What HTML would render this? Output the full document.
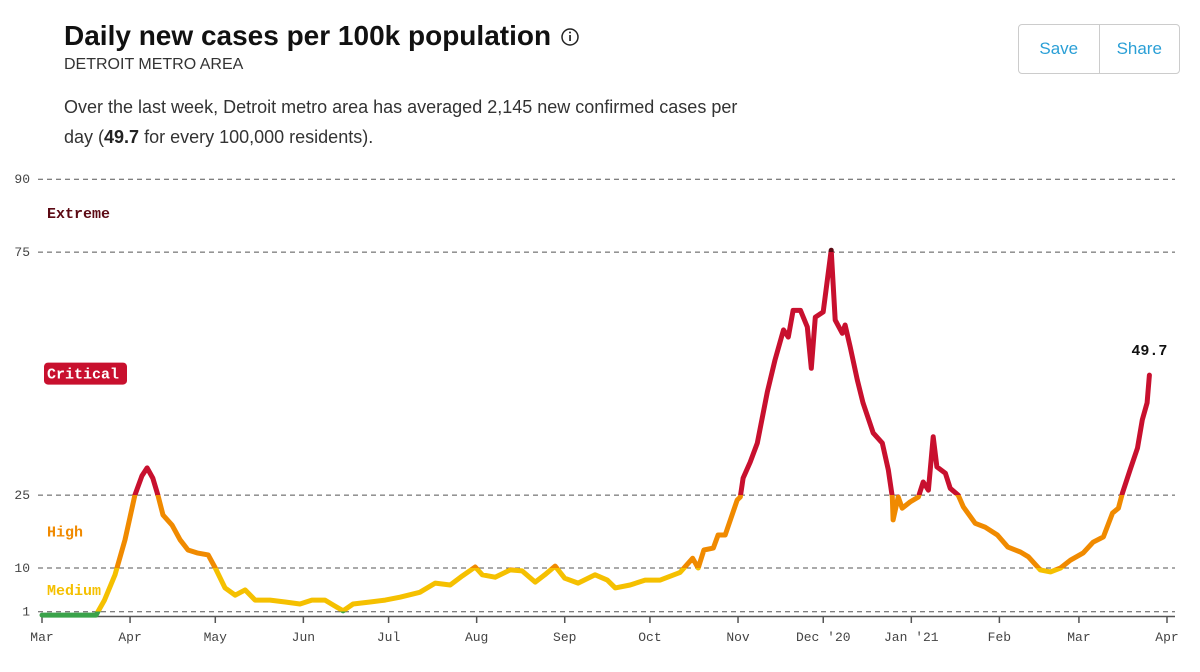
<!DOCTYPE html>
<html><head><meta charset="utf-8">
<style>
body{margin:0;width:1200px;height:672px;background:#fff;font-family:"Liberation Sans",sans-serif;overflow:hidden;position:relative}
.t{position:absolute;white-space:nowrap}
#title{left:64px;top:20px;font-size:28px;font-weight:bold;color:#111;letter-spacing:0}
#sub{left:64px;top:56px;font-size:16px;color:#333}
#desc{left:64px;top:92px;font-size:18px;color:#333;line-height:30px}
#btns{position:absolute;left:1018px;top:24px;width:160px;height:48px;border:1px solid #ccc;border-radius:4px;display:flex}
#btns div{flex:1;display:flex;align-items:center;justify-content:center;color:#2a9fd6;font-size:17px}
#btns div+div{border-left:1px solid #ccc}
svg{position:absolute;left:0;top:0}
</style></head><body>
<div class="t" id="title">Daily new cases per 100k population</div>
<svg width="1200" height="672">
<g><circle cx="570" cy="37" r="8" fill="none" stroke="#222" stroke-width="1.5"/><rect x="569.2" y="35" width="1.7" height="6" fill="#222"/><circle cx="570" cy="32.5" r="1" fill="#222"/></g>
<defs><linearGradient id="lvl" gradientUnits="userSpaceOnUse" x1="0" x2="0" y1="0" y2="672"></linearGradient></defs>
<g id="grid"></g><g id="axis"></g><g id="labels"></g>
<path id="line" fill="none" stroke="url(#lvl)" stroke-width="5" stroke-linejoin="round" stroke-linecap="round"/>
<text id="last" font-family="Liberation Mono,monospace" font-weight="bold" font-size="15" fill="#111" text-anchor="middle"></text>
</svg>
<div class="t" id="sub">DETROIT METRO AREA</div>
<div class="t" id="desc">Over the last week, Detroit metro area has averaged 2,145 new confirmed cases per<br>day (<b style="color:#222">49.7</b> for every 100,000 residents).</div>
<div id="btns"><div>Save</div><div>Share</div></div>
<script>
const days=[0,19,22,25.7,29.2,32.7,35.2,37,39,40.8,42.6,45.8,48.6,51.4,54.6,58.5,61,64.4,68,71.5,75,80.3,85.6,90.8,95,99.6,103,106,109.5,115.5,120.8,126,133,138.4,143.7,148,152.5,155,159.5,164.8,169,173.6,177,180.6,184,188.7,194.7,199,201.8,207,212.3,217.6,224.6,229,231,233,236.3,238,240.5,244.7,245.8,246.8,249.3,251.8,255.3,258,261,262.7,264.4,267,269.4,270.8,272.2,275,277.8,279.2,281.7,282.7,284.5,287,289,292.6,295.8,297.9,299.3,299.6,301.4,302.8,305.6,308.5,310.2,312,313.7,315,318,319.7,322.5,324.3,328.5,332,336.3,340,344.4,347.2,351.4,355,358.5,362,366.5,370,373.6,376.8,378.9,380.3,383,385.6,387.3,389,389.8];
const values=[0.3,0.3,3.4,8.6,15.8,25,29,30.6,28.5,25,20.9,18.8,15.8,13.7,13.1,12.7,10,5.9,4.4,5.5,3.4,3.4,3,2.6,3.4,3.4,2.2,1.2,2.6,3,3.4,4,5,6.9,6.5,8.4,10.2,8.6,8.1,9.6,9.4,7.1,8.6,10.4,7.9,6.9,8.6,7.5,5.9,6.5,7.5,7.5,9.1,12,10,13.7,14.1,16.8,16.8,24,24.6,28.5,31.8,35.7,46.2,52.8,59,57.5,63,63,59.6,51.1,61.6,62.7,75.4,61,58.3,60,55.5,48.7,44,37.8,35.7,30.2,24.6,19.9,24.6,22.3,23.6,24.6,27.7,26,37,30.8,29.5,26.4,25,22.6,19.2,18.4,16.8,14.3,13.3,12.3,9.6,9.2,10,11.6,13.1,15.3,16.4,21.3,22.3,25.4,30.2,34.7,40.5,44,49.7];
const yTicks=[1,10,25,75,90];
const monthDays=[0,31,61,92,122,153,184,214,245,275,306,337,365,396];
const monthLabels=["Mar","Apr","May","Jun","Jul","Aug","Sep","Oct","Nov","Dec '20","Jan '21","Feb","Mar","Apr"];
const levelBounds=[1,10,25,75];
const levelColors=["#3aa34a","#f5c000","#f08a00","#c8102e","#5c0a14"];
const levelNames=["Medium","High","Critical","Extreme"];
const levelLabelVals=[5.5,17.5,50,83];

const NS="http://www.w3.org/2000/svg";
const x=d=>42+d*2.8409;
const y=v=>616.6-v*4.86;
function mk(tag,attrs,parent,txt){const e=document.createElementNS(NS,tag);for(const k in attrs)e.setAttribute(k,attrs[k]);if(txt!==undefined)e.textContent=txt;parent.appendChild(e);return e;}
const grid=document.getElementById('grid'),axis=document.getElementById('axis'),labels=document.getElementById('labels');
yTicks.forEach(v=>{
  const l=mk('line',{x1:38,x2:1175,y1:y(v),y2:y(v),stroke:'#555','stroke-width':1,'stroke-dasharray':'5,4'},grid);
  
  
  const t=mk('text',{x:30,y:y(v)+4,'text-anchor':'end','font-family':'Liberation Mono,monospace','font-size':13,fill:'#444'},grid,v);
  
  
});
const al=mk('line',{x1:42,x2:1175,y1:616.5,y2:616.5,stroke:'#555','stroke-width':1.5},axis);


monthDays.forEach((d,i)=>{
  mk('line',{x1:x(d),x2:x(d),y1:616,y2:623,stroke:'#555','stroke-width':1.5},axis);
  const t=mk('text',{x:x(d),y:641,'text-anchor':'middle','font-family':'Liberation Mono,monospace','font-size':13,fill:'#444'},axis,monthLabels[i]);
  
  
});
const g=document.getElementById('lvl');
const stops=[[0,levelColors[4]]];
for(let i=levelBounds.length-1;i>=0;i--){const o=y(levelBounds[i])/672;stops.push([o,levelColors[i+1]]);stops.push([o,levelColors[i]]);}
stops.push([1,levelColors[0]]);
stops.forEach(s=>mk('stop',{offset:s[0],'stop-color':s[1]},g));
levelNames.forEach((n,i)=>{
  const yy=y(levelLabelVals[i]);
  if(n==="Critical"){
    const r=mk('rect',{x:44,y:yy-11,width:83,height:22,rx:4,fill:levelColors[3]},labels);
    
    
  }
  const t=mk('text',{x:47,y:yy+5,'font-family':'Liberation Mono,monospace','font-weight':'bold','font-size':15,fill:n==="Critical"?'#fff':(n==="Extreme"?levelColors[4]:levelColors[i+1])},labels,n);
  
  
});
document.getElementById('line').setAttribute('d',days.map((d,i)=>(i?'L':'M')+x(d).toFixed(1)+','+y(values[i]).toFixed(1)).join(''));
const last=document.getElementById('last');
last.setAttribute('x',x(days[days.length-1]));
last.setAttribute('y',y(values[values.length-1])-20);
last.textContent=values[values.length-1];
</script>
</body></html>
